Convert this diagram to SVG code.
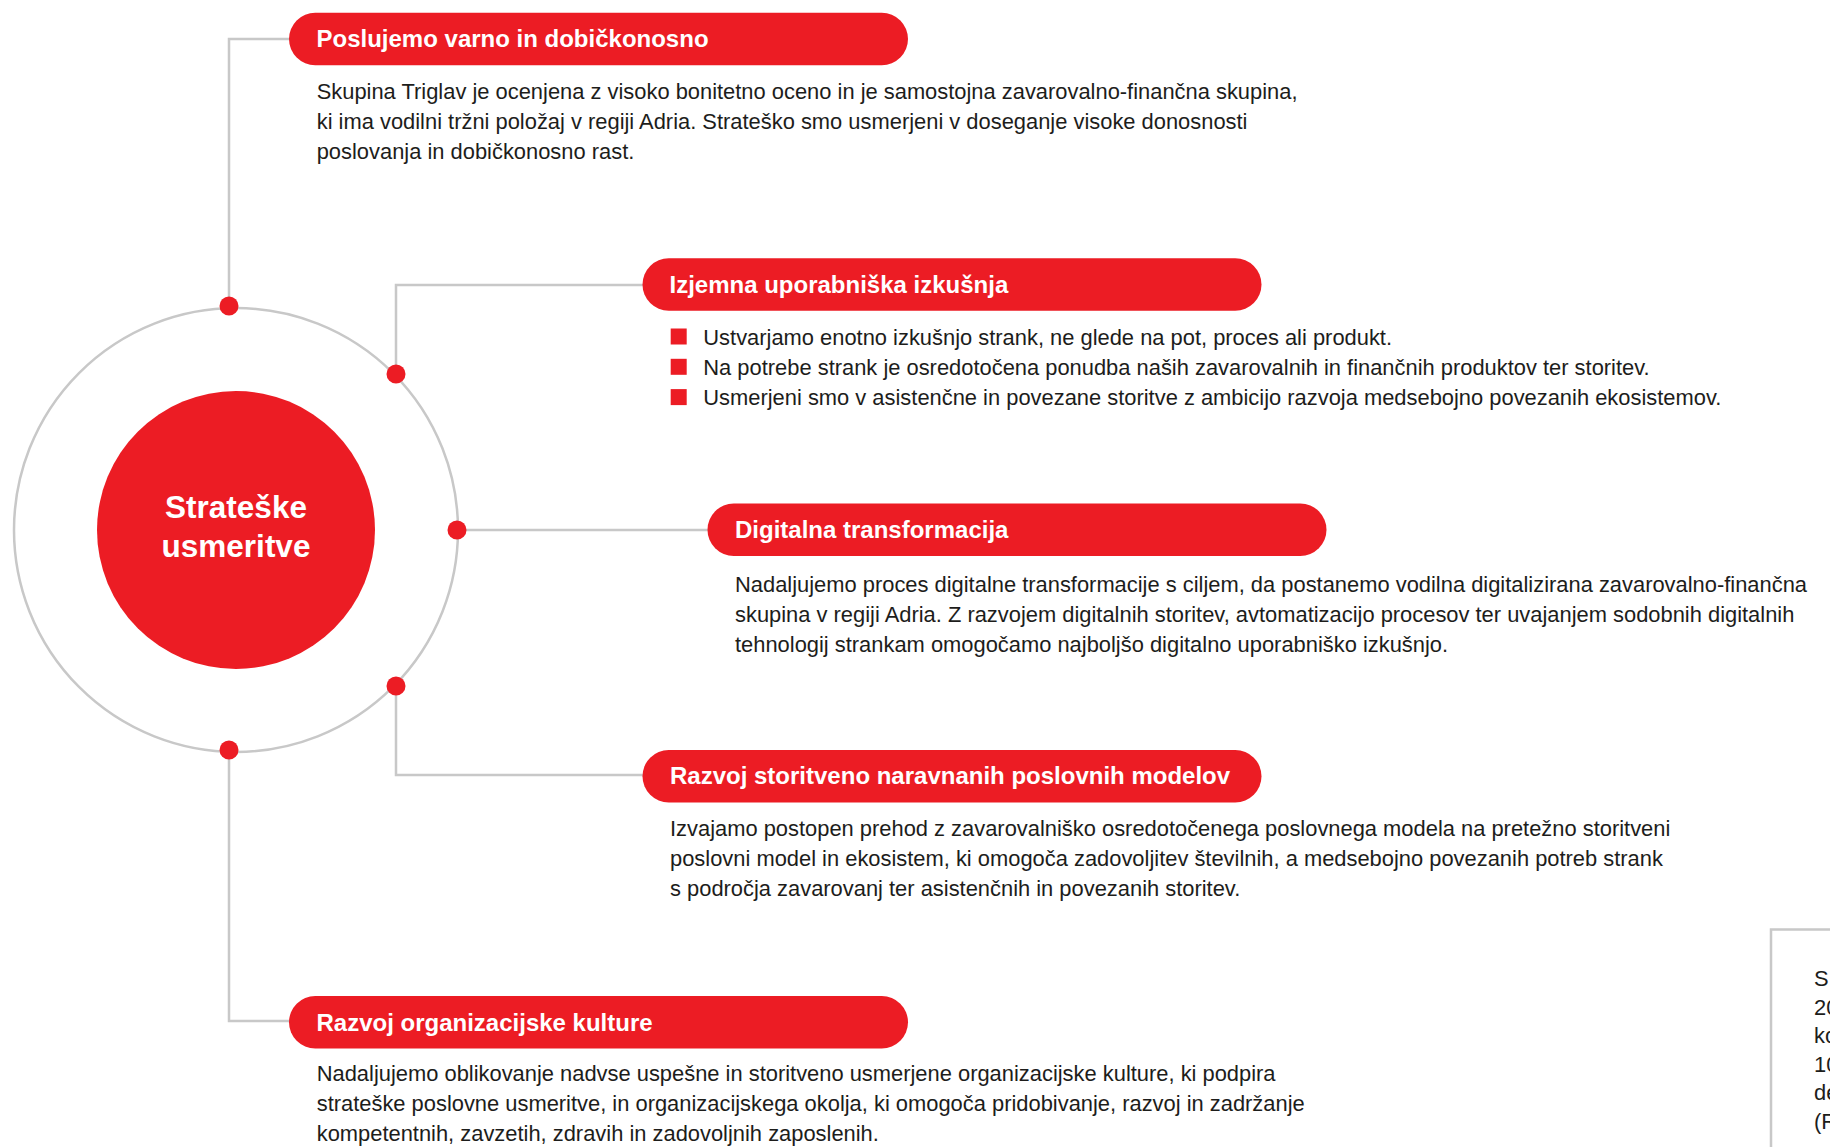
<svg xmlns="http://www.w3.org/2000/svg" width="1830" height="1147" viewBox="0 0 1830 1147">
<style>
.line{fill:none;stroke:#c8c8c8;stroke-width:2.5}
.dot{fill:#ec1c24}
.pill{fill:#ec1c24}
.title{font-family:"Liberation Sans",Arial,sans-serif;font-weight:bold;font-size:24px;fill:#ffffff}
.body{font-family:"Liberation Sans",Arial,sans-serif;font-size:21.9px;fill:#1d1d1b}
.ctr{font-family:"Liberation Sans",Arial,sans-serif;font-weight:bold;font-size:31.5px;fill:#ffffff;text-anchor:middle}
.bullet{fill:#ec1c24}
</style>
<rect x="0" y="0" width="1830" height="1147" fill="#ffffff"/>

<g id="center-ring">
<circle cx="236" cy="530" r="222" class="line"/>
</g>

<g id="connectors">
<path class="line" d="M229,306 V39 H290"/>
<path class="line" d="M396,374 V285 H643"/>
<path class="line" d="M457,530 H708"/>
<path class="line" d="M396,686 V775 H643"/>
<path class="line" d="M229,750 V1021 H290"/>
<circle class="dot" cx="229" cy="306" r="9.5"/>
<circle class="dot" cx="396" cy="374" r="9.5"/>
<circle class="dot" cx="457" cy="530" r="9.5"/>
<circle class="dot" cx="396" cy="686" r="9.5"/>
<circle class="dot" cx="229" cy="750" r="9.5"/>
</g>

<g id="center">
<circle cx="236" cy="530" r="139" fill="#ec1c24"/>
<text class="ctr" x="236" y="518">Strateške</text>
<text class="ctr" x="236" y="557">usmeritve</text>
</g>

<g id="node-1">
<rect class="pill" x="289" y="12.7" width="619" height="52.5" rx="26.25"/>
<text class="title" x="316.5" y="47.3">Poslujemo varno in dobičkonosno</text>
<text class="body" x="316.7" y="98.7">Skupina Triglav je ocenjena z visoko bonitetno oceno in je samostojna zavarovalno-finančna skupina,</text>
<text class="body" x="316.7" y="129">ki ima vodilni tržni položaj v regiji Adria. Strateško smo usmerjeni v doseganje visoke donosnosti</text>
<text class="body" x="316.7" y="159.3">poslovanja in dobičkonosno rast.</text>
</g>

<g id="node-2">
<rect class="pill" x="642.5" y="258.3" width="619" height="52.5" rx="26.25"/>
<text class="title" x="669.5" y="293">Izjemna uporabniška izkušnja</text>
<rect class="bullet" x="670.7" y="328.5" width="16" height="16"/>
<rect class="bullet" x="670.7" y="358.8" width="16" height="16"/>
<rect class="bullet" x="670.7" y="389.1" width="16" height="16"/>
<text class="body" x="703.3" y="344.5">Ustvarjamo enotno izkušnjo strank, ne glede na pot, proces ali produkt.</text>
<text class="body" x="703.3" y="374.8">Na potrebe strank je osredotočena ponudba naših zavarovalnih in finančnih produktov ter storitev.</text>
<text class="body" x="703.3" y="405.1">Usmerjeni smo v asistenčne in povezane storitve z ambicijo razvoja medsebojno povezanih ekosistemov.</text>
</g>

<g id="node-3">
<rect class="pill" x="707.5" y="503.5" width="619" height="52.5" rx="26.25"/>
<text class="title" x="735" y="538.3">Digitalna transformacija</text>
<text class="body" x="735" y="591.5">Nadaljujemo proces digitalne transformacije s ciljem, da postanemo vodilna digitalizirana zavarovalno-finančna</text>
<text class="body" x="735" y="621.8">skupina v regiji Adria. Z razvojem digitalnih storitev, avtomatizacijo procesov ter uvajanjem sodobnih digitalnih</text>
<text class="body" x="735" y="652.1">tehnologij strankam omogočamo najboljšo digitalno uporabniško izkušnjo.</text>
</g>

<g id="node-4">
<rect class="pill" x="642.5" y="750" width="619" height="52.5" rx="26.25"/>
<text class="title" x="670" y="784.3">Razvoj storitveno naravnanih poslovnih modelov</text>
<text class="body" x="670" y="835.7">Izvajamo postopen prehod z zavarovalniško osredotočenega poslovnega modela na pretežno storitveni</text>
<text class="body" x="670" y="866">poslovni model in ekosistem, ki omogoča zadovoljitev številnih, a medsebojno povezanih potreb strank</text>
<text class="body" x="670" y="896.3">s področja zavarovanj ter asistenčnih in povezanih storitev.</text>
</g>

<g id="node-5">
<rect class="pill" x="289" y="996" width="619" height="52.5" rx="26.25"/>
<text class="title" x="316.5" y="1030.5">Razvoj organizacijske kulture</text>
<text class="body" x="316.7" y="1080.5">Nadaljujemo oblikovanje nadvse uspešne in storitveno usmerjene organizacijske kulture, ki podpira</text>
<text class="body" x="316.7" y="1110.8">strateške poslovne usmeritve, in organizacijskega okolja, ki omogoča pridobivanje, razvoj in zadržanje</text>
<text class="body" x="316.7" y="1141.1">kompetentnih, zavzetih, zdravih in zadovoljnih zaposlenih.</text>
</g>

<g id="side-box">
<path class="line" d="M1771,1147 V929.5 H1830"/>
<text class="body" x="1814" y="986">S</text>
<text class="body" x="1814" y="1014.5">20</text>
<text class="body" x="1814" y="1043">ko</text>
<text class="body" x="1814" y="1071.5">10</text>
<text class="body" x="1814" y="1100">de</text>
<text class="body" x="1814" y="1128.5">(R</text>
</g>
</svg>
